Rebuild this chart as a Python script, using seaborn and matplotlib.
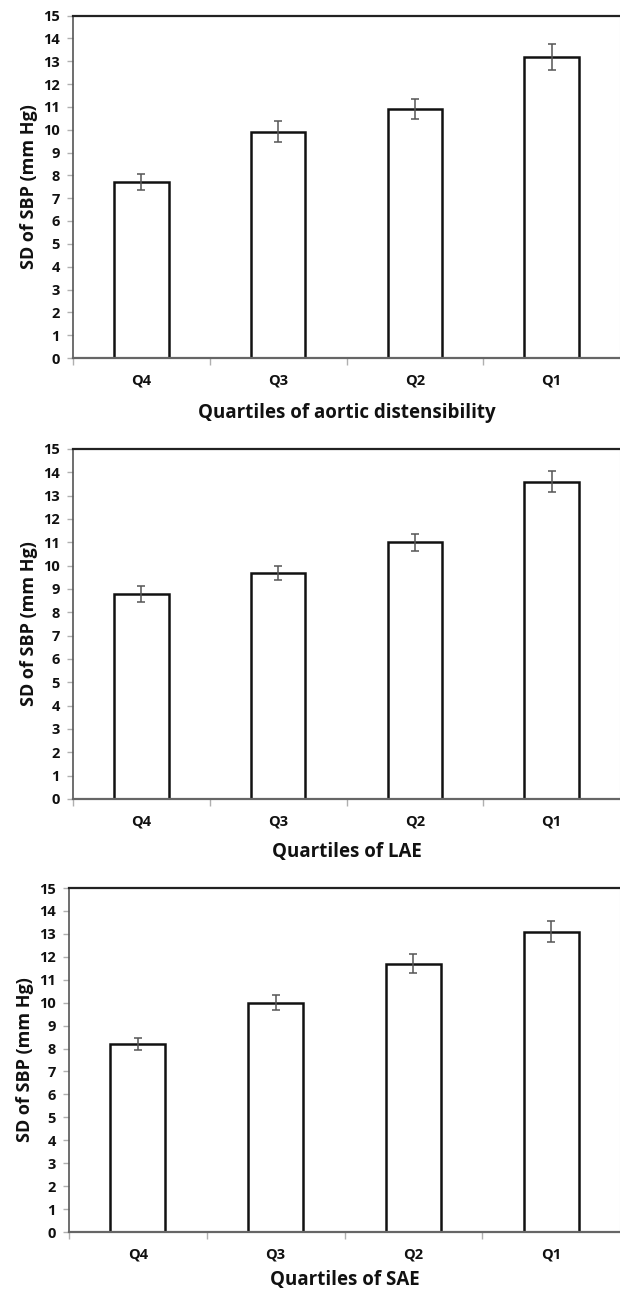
import matplotlib
matplotlib.use("Agg")
import matplotlib.pyplot as plt
import seaborn as sns
import pandas as pd

# Quartile bars, three panels
quartiles = ["Q4", "Q3", "Q2", "Q1"]

aortic_sd = [7.7, 9.9, 10.9, 13.2]
aortic_err = [0.35, 0.46, 0.45, 0.57]

lae_sd = [8.8, 9.7, 11.0, 13.6]
lae_err = [0.35, 0.3, 0.36, 0.45]

sae_sd = [8.2, 10.0, 11.7, 13.1]
sae_err = [0.26, 0.33, 0.41, 0.46]

xlabels = ["Quartiles of aortic distensibility", "Quartiles of LAE", "Quartiles of SAE"]
ylabel = "SD of SBP (mm Hg)"

sns.set_style("white")
plt.rcParams["font.family"] = ["Open Sans", "DejaVu Sans"]
plt.rcParams["font.weight"] = "bold"

fig = plt.figure(figsize=(6.2, 12.91), dpi=100)

# panel rectangles in figure fractions (left, bottom, width, height)
rects = [
    (73 / 620, 1 - 358 / 1291, 547 / 620, 342.5 / 1291),
    (73 / 620, 1 - 799 / 1291, 547 / 620, 350 / 1291),
    (69 / 620, 1 - 1232 / 1291, 551 / 620, 344 / 1291),
]
xlabel_pads = [11, 10, 6]
panels = [(aortic_sd, aortic_err), (lae_sd, lae_err), (sae_sd, sae_err)]

for rect, (vals, errs), xl, lp in zip(rects, panels, xlabels, xlabel_pads):
    ax = fig.add_axes(rect)
    df = pd.DataFrame({"q": quartiles, "sd": vals})
    sns.barplot(data=df, x="q", y="sd", color="white", edgecolor="#111111",
                linewidth=1.8, width=0.4, errorbar=None, ax=ax)
    for b in ax.patches:
        b.set_facecolor("white")
    ax.errorbar(range(len(quartiles)), vals, yerr=errs, fmt="none",
                ecolor="#555555", elinewidth=1.1, capsize=3, capthick=1.1)

    ax.set_xlim(-0.5, 3.5)
    ax.set_ylim(0, 15)
    ax.set_yticks(range(0, 16))
    ax.set_xticks(range(len(quartiles)))
    ax.set_xticklabels(quartiles)
    ax.set_xticks([-0.5, 0.5, 1.5, 2.5], minor=True)
    ax.tick_params(axis="x", which="major", length=0, pad=11, labelsize=10.5,
                   labelcolor="#111111")
    ax.tick_params(axis="x", which="minor", length=5, width=1, color="#b0b0b0",
                   direction="out", bottom=True)
    ax.tick_params(axis="y", length=4.5, width=1, color="#b0b0b0", direction="out",
                   left=True, labelsize=10.5, labelcolor="#111111", pad=5)
    for lab in ax.get_xticklabels() + ax.get_yticklabels():
        lab.set_fontweight("bold")

    ax.spines["top"].set_color("#222222")
    ax.spines["top"].set_linewidth(1.6)
    ax.spines["left"].set_color("#555555")
    ax.spines["left"].set_linewidth(1.2)
    ax.spines["bottom"].set_color("#666666")
    ax.spines["bottom"].set_linewidth(1.6)
    ax.spines["right"].set_color("#e6e6e6")
    ax.spines["right"].set_linewidth(0.8)

    ax.set_xlabel(xl, fontsize=13.5, fontweight="bold", color="#111111", labelpad=lp)
    ax.set_ylabel(ylabel, fontsize=13, fontweight="bold", color="#111111", labelpad=4)

fig.savefig("out.png", dpi=100, facecolor="white")
